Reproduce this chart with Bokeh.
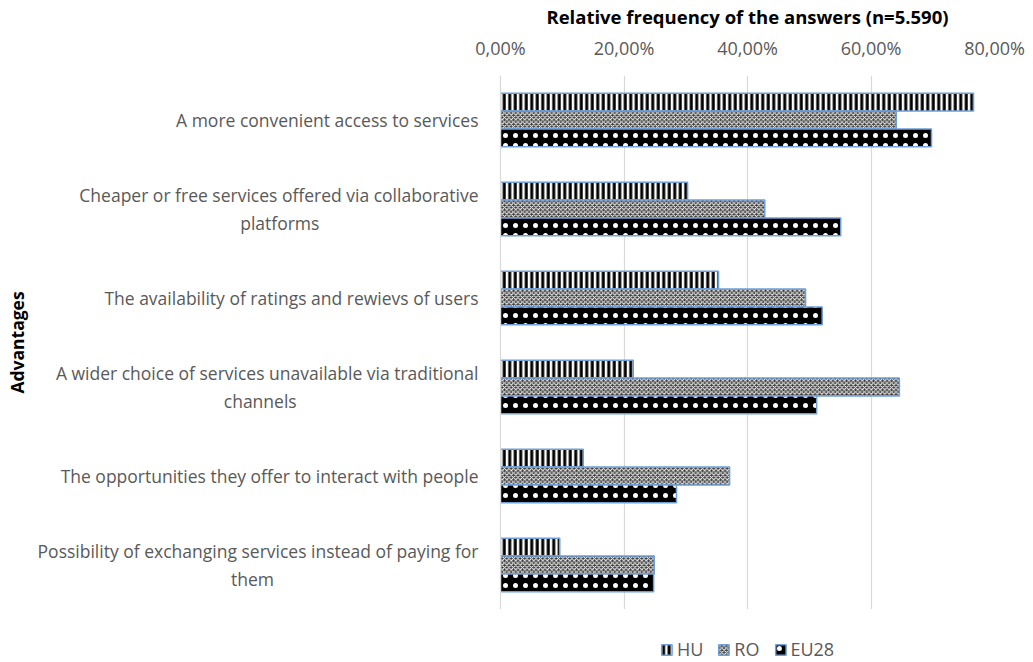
from bokeh.plotting import figure
from bokeh.layouts import column
from bokeh.models import (FactorRange, Range1d, FixedTicker, CustomJSTickFormatter,
                          Legend, LegendItem, ColumnDataSource)
from bokeh.transform import dodge
from bokeh.embed import file_html
from bokeh.resources import INLINE

categories = [
    "A more convenient access to services",
    "Cheaper or free services offered via collaborative\nplatforms",
    "The availability of ratings and rewievs of users",
    "A wider choice of services unavailable via traditional\nchannels",
    "The opportunities they offer to interact with people",
    "Possibility of exchanging services instead of paying for\nthem",
]
HU = [76.6, 30.3, 35.3, 21.5, 13.4, 9.6]
RO = [64.1, 42.8, 49.4, 64.6, 37.1, 24.9]
EU28 = [69.8, 55.1, 52.1, 51.2, 28.5, 24.8]
series = ["HU", "RO", "EU28"]
x_ticks = [0, 20, 40, 60, 80]

FONT = "Open Sans"
TXT = "#595959"


def centered(label):
    # axis labels are right-aligned; pad short second lines so they look centred
    lines = label.split("\n")
    if len(lines) == 1:
        return label
    first, rest = lines[0], lines[1:]
    out = [first]
    for ln in rest:
        n = max(0, round((len(first) - len(ln)) * 0.86))
        out.append(ln + "\u00a0" * n)
    return "\n".join(out)


labels = [centered(c) for c in categories]
src = ColumnDataSource(dict(cat=labels, HU=HU, RO=RO, EU28=EU28))

p = figure(frame_width=494, frame_height=534,
           x_range=Range1d(0, 80), y_range=FactorRange(factors=list(reversed(labels))),
           x_axis_location="above", output_backend="svg", toolbar_location=None,
           min_border_left=500, min_border_top=74, min_border_right=36, min_border_bottom=0)
p.outline_line_color = None
p.background_fill_color = "white"
p.border_fill_color = "white"

p.ygrid.grid_line_color = None
p.xgrid.grid_line_color = "#d9d9d9"
p.xgrid.grid_line_width = 1.2

xa = p.xaxis[0]
xa.ticker = FixedTicker(ticks=x_ticks)
xa.formatter = CustomJSTickFormatter(code="return tick.toFixed(2).replace('.', ',') + '%';")
xa.axis_line_color = None
xa.major_tick_line_color = None
xa.minor_tick_line_color = None
xa.major_label_text_font = FONT
xa.major_label_text_font_size = "18px"
xa.major_label_text_color = TXT
xa.major_label_standoff = 10
xa.axis_label = "Relative frequency of the answers (n=5.590)"
xa.axis_label_text_font = FONT
xa.axis_label_text_font_size = "18.5px"
xa.axis_label_text_font_style = "bold"
xa.axis_label_text_color = "#000000"
xa.axis_label_standoff = 4

ya = p.yaxis[0]
ya.axis_line_color = "#d9d9d9"
ya.axis_line_width = 1.2
ya.major_tick_line_color = None
ya.minor_tick_line_color = None
ya.major_label_text_font = FONT
ya.major_label_text_font_size = "17.5px"
ya.major_label_text_color = TXT
ya.major_label_standoff = 16
ya.axis_label = "Advantages"
ya.axis_label_text_font = FONT
ya.axis_label_text_font_size = "17.5px"
ya.axis_label_text_font_style = "bold"
ya.axis_label_text_color = "#000000"
ya.axis_label_standoff = 6

H = 0.2
OUT = "#6f9fd8"
STYLES = {
    "HU": dict(fill_color="white", hatch_pattern="vertical_line", hatch_color="black",
               hatch_scale=5.5, hatch_weight=3, line_color=OUT, line_width=1.5),
    "RO": dict(fill_color="#3c3c3c", hatch_pattern="diagonal_cross", hatch_color="white",
               hatch_scale=4.5, hatch_weight=1, line_color=OUT, line_width=1.5),
    "EU28": dict(fill_color="black", hatch_pattern="dot", hatch_color="white",
                 hatch_scale=10, hatch_weight=1.3, line_color=OUT, line_width=1.5),
}
offsets = {"HU": 0.2, "RO": 0.0, "EU28": -0.2}
for s in series:
    p.hbar(y=dodge("cat", offsets[s], range=p.y_range), right=s, left=0, height=H,
           source=src, **STYLES[s])

# legend strip below the chart (its proxy bars sit outside the visible range)
q = figure(width=1030, height=52, x_range=Range1d(0, 1), y_range=Range1d(0, 1),
           x_axis_type=None, y_axis_type=None, output_backend="svg", toolbar_location=None,
           min_border=0)
q.outline_line_color = None
q.background_fill_color = "white"
q.border_fill_color = "white"
proxy = ColumnDataSource(dict(y=[-5], r=[0]))
items = []
for s in series:
    rr = q.hbar(y="y", right="r", left=0, height=0.1, source=proxy, **STYLES[s])
    items.append(LegendItem(label=s, renderers=[rr]))

legend = Legend(items=items, orientation="horizontal", location="bottom_center",
                label_text_font=FONT, label_text_font_size="18px", label_text_color=TXT,
                glyph_width=13, glyph_height=13, label_standoff=4, spacing=14,
                padding=0, margin=0, border_line_color=None, background_fill_alpha=0)
q.add_layout(legend, "center")

layout = column(p, q, spacing=0)
open("out.html", "w").write(file_html(layout, INLINE))
